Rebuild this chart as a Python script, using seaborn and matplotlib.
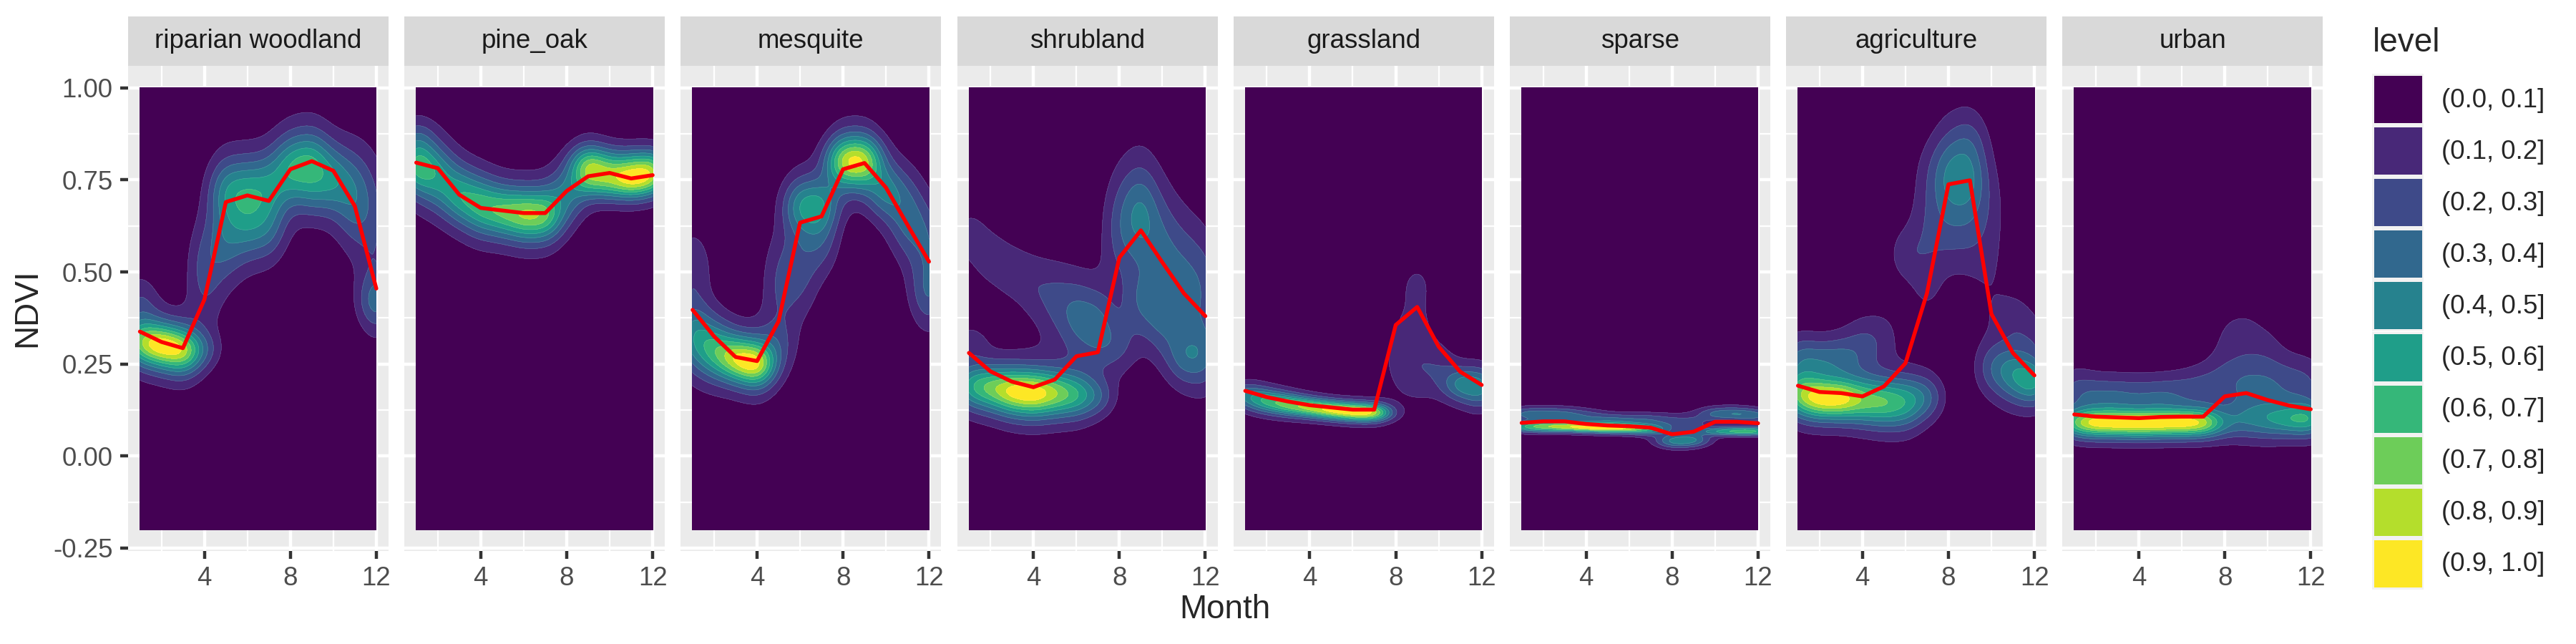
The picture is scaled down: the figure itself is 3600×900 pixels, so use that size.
import matplotlib
matplotlib.use("Agg")
import matplotlib.pyplot as plt
from matplotlib.patches import Rectangle
import seaborn as sns
import numpy as np
import pandas as pd

panels = ["riparian woodland", "pine_oak", "mesquite", "shrubland",
          "grassland", "sparse", "agriculture", "urban"]
months = list(range(1, 13))
level_labels = ["(0.0, 0.1]", "(0.1, 0.2]", "(0.2, 0.3]", "(0.3, 0.4]", "(0.4, 0.5]",
                "(0.5, 0.6]", "(0.6, 0.7]", "(0.7, 0.8]", "(0.8, 0.9]", "(0.9, 1.0]"]
level_colors = ["#440154", "#482878", "#3E4A89", "#31688E", "#26828E",
                "#1F9E89", "#35B779", "#6DCD59", "#B4DE2C", "#FDE725"]
x_ticks = [4, 8, 12]
y_ticks = [-0.25, 0.0, 0.25, 0.5, 0.75, 1.0]

# monthly mean NDVI (red lines)
riparian_line = [.338, .31, .293, .425, .69, .708, .693, .779, .801, .775, .679, .455]
pine_line = [.797, .782, .71, .674, .667, .66, .66, .72, .76, .769, .754, .763]
mesquite_line = [.397, .325, .269, .258, .366, .634, .651, .779, .796, .729, .628, .528]
shrub_line = [.28, .23, .202, .187, .208, .271, .282, .539, .613, .526, .442, .38]
grass_line = [.177, .16, .148, .138, .132, .126, .126, .356, .405, .297, .229, .193]
sparse_line = [.09, .094, .094, .087, .083, .081, .077, .059, .066, .093, .093, .089]
agri_line = [.191, .174, .171, .162, .189, .252, .442, .738, .749, .386, .28, .219]
urban_line = [.113, .107, .105, .103, .106, .107, .107, .162, .171, .152, .137, .127]

# density clusters: (month, ndvi, spread, weight)
riparian_blobs = [(1, .31, .04, .7), (1, .42, .05, .2), (2, .30, .038, .9), (3, .285, .04, .85),
                  (4, .29, .035, .2), (4, .50, .09, .28), (5, .72, .06, .42), (5, .58, .07, .3),
                  (6, .72, .06, .42), (6, .62, .06, .3), (7, .73, .06, .4), (7, .62, .06, .28),
                  (8, .78, .06, .55), (9, .79, .06, .6), (9, .70, .04, .1), (10, .75, .06, .45),
                  (11, .70, .08, .4), (12, .42, .05, .38), (12, .62, .12, .2)]
pine_blobs = [(1, .79, .05, .72), (1, .87, .03, .12), (2, .76, .055, .5), (3, .71, .05, .55),
              (4, .68, .05, .6), (5, .665, .045, .62), (6, .655, .045, .72), (7, .655, .045, .72),
              (8, .71, .05, .4), (9, .79, .035, .75), (9, .74, .03, .3), (10, .78, .035, .45),
              (10, .74, .03, .35), (11, .745, .03, .72), (11, .79, .03, .35),
              (12, .75, .03, .55), (12, .79, .03, .5)]
mesquite_blobs = [(1, .33, .06, .45), (1, .52, .06, .2), (2, .29, .05, .55), (3, .265, .04, .75),
                  (4, .25, .04, .9), (5, .30, .05, .18), (5, .47, .09, .2), (6, .68, .05, .42),
                  (6, .50, .08, .22), (7, .68, .05, .42), (7, .58, .06, .2), (8, .80, .045, .75),
                  (9, .80, .045, .8), (10, .72, .05, .42), (11, .65, .07, .35), (12, .44, .06, .3),
                  (12, .58, .07, .25)]
shrub_blobs = [(1, .19, .04, .5), (1, .31, .03, .16), (1, .60, .05, .16), (2, .185, .04, .6),
               (2, .54, .05, .16), (3, .175, .04, .8), (3, .50, .05, .16), (4, .17, .04, .85),
               (4, .46, .06, .16), (5, .17, .04, .65), (5, .42, .07, .2), (6, .165, .04, .5),
               (6, .38, .07, .3), (7, .16, .035, .25), (7, .35, .07, .33), (8, .62, .1, .25),
               (8, .30, .05, .2), (9, .66, .09, .42), (9, .42, .06, .25), (10, .56, .1, .28),
               (10, .36, .06, .24), (11, .49, .1, .27), (11, .27, .05, .3), (12, .45, .1, .25),
               (12, .27, .06, .26)]
grass_blobs = [(1, .165, .022, .5), (2, .15, .02, .68), (3, .14, .018, .78), (4, .132, .016, .85),
               (5, .125, .015, .95), (6, .12, .015, 1.0), (7, .118, .015, 1.0), (8, .27, .08, .15),
               (9, .33, .1, .16), (9, .47, .04, .1), (9, .22, .05, .09), (10, .24, .05, .2),
               (11, .195, .03, .5), (12, .185, .035, .55)]
sparse_blobs = [(1, .08, .009, .6), (1, .115, .012, .35), (2, .08, .009, .75), (2, .115, .012, .35),
                (3, .08, .008, .85), (3, .115, .012, .33), (4, .078, .008, .95), (4, .11, .012, .28),
                (5, .077, .008, .95), (5, .10, .012, .28), (6, .075, .008, .85), (6, .10, .012, .25),
                (7, .072, .01, .55), (7, .10, .012, .25), (8, .04, .012, .5), (8, .09, .016, .25),
                (9, .043, .012, .5), (9, .09, .016, .25), (10, .067, .007, .5), (10, .115, .012, .38),
                (11, .067, .007, .65), (11, .115, .012, .42), (12, .067, .007, .7), (12, .11, .012, .4)]
agri_blobs = [(1, .17, .04, .8), (1, .27, .04, .3), (2, .155, .035, .95), (2, .26, .04, .3),
              (3, .155, .035, .95), (3, .27, .04, .3), (4, .15, .04, .7), (4, .30, .05, .25),
              (5, .145, .042, .7), (5, .33, .05, .15), (6, .145, .045, .6), (7, .16, .04, .38),
              (6, .55, .05, .2), (7, .62, .09, .2), (7, .78, .06, .08), (7, .45, .06, .1),
              (8, .76, .08, .45), (8, .60, .07, .14), (9, .76, .08, .45), (9, .60, .08, .14),
              (9, .87, .05, .1), (10, .68, .09, .12), (10, .5, .1, .1), (10, .24, .05, .3),
              (11, .225, .05, .5), (11, .38, .04, .18), (12, .20, .04, .65), (12, .32, .05, .15)]
urban_blobs = [(1, .09, .025, .75), (1, .18, .04, .28), (2, .09, .024, 1.0), (2, .17, .035, .28),
               (3, .09, .024, 1.0), (3, .17, .035, .28), (4, .088, .024, 1.0), (4, .17, .035, .25),
               (5, .09, .024, 1.0), (5, .17, .035, .28), (6, .09, .024, 1.0), (6, .18, .035, .25),
               (7, .09, .024, .95), (7, .19, .04, .25), (8, .09, .03, .33), (8, .2, .05, .25),
               (8, .33, .06, .1), (9, .10, .035, .36), (9, .2, .05, .28), (9, .33, .06, .13),
               (10, .10, .035, .45), (10, .2, .05, .27), (10, .3, .05, .1), (11, .10, .03, .55),
               (11, .2, .05, .25), (12, .10, .03, .7), (12, .2, .05, .22)]

panel_lines = [riparian_line, pine_line, mesquite_line, shrub_line,
               grass_line, sparse_line, agri_line, urban_line]
panel_blobs = [riparian_blobs, pine_blobs, mesquite_blobs, shrub_blobs,
               grass_blobs, sparse_blobs, agri_blobs, urban_blobs]

WIDTH, HEIGHT = 3600, 900
PANEL_W = 364
PANEL_STEP = 386.2
LEFT, TOP, BOTTOM = 179, 92, 770
MONTH_BW = 0.62


def fx(px):
    return px / WIDTH


def fy(py):
    return 1 - py / HEIGHT


def density_field(blobs):
    xs = np.linspace(1, 12, 331)
    ys = np.linspace(-0.2, 1.0, 601)
    xx, yy = np.meshgrid(xs, ys)
    zz = np.zeros_like(xx)
    for month, ndvi, spread, weight in blobs:
        along = np.exp(-0.5 * ((xx - month) / MONTH_BW) ** 2)
        # narrow core plus a wider shoulder, the contours have long tails
        across = 0.7 * np.exp(-0.5 * ((yy - ndvi) / spread) ** 2) + 0.3 * np.exp(-0.5 * ((yy - ndvi) / (1.8 * spread)) ** 2)
        zz += weight * along * across
    return xs, ys, zz / zz.max()


sns.set_theme(style="darkgrid", rc={
    "axes.facecolor": "#EBEBEB", "grid.color": "white", "axes.edgecolor": "none",
    "xtick.bottom": True, "ytick.left": True, "xtick.color": "#333333", "ytick.color": "#333333",
    "xtick.major.size": 2.75, "ytick.major.size": 2.75,
    "xtick.major.width": 1.07, "ytick.major.width": 1.07,
    "xtick.major.pad": 2.2, "ytick.major.pad": 2.4,
})
plt.rcParams["font.family"] = ["Liberation Sans", "DejaVu Sans"]

line_df = pd.concat([pd.DataFrame({"panel": name, "month": months, "ndvi": vals})
                     for name, vals in zip(panels, panel_lines)])

g = sns.FacetGrid(line_df, col="panel", col_order=panels, sharex=True, sharey=True, height=3, aspect=0.5)
g.figure.set_size_inches(WIDTH / 300, HEIGHT / 300)
g.figure.subplots_adjust(left=fx(LEFT), right=fx(LEFT + 7 * PANEL_STEP + PANEL_W),
                         top=fy(TOP), bottom=fy(BOTTOM),
                         wspace=(PANEL_STEP - PANEL_W) / PANEL_W)

for i, ((name, ax), blobs) in enumerate(zip(g.axes_dict.items(), panel_blobs)):
    xs, ys, zz = density_field(blobs)
    ax.contourf(xs, ys, zz, levels=np.linspace(0, 1, 11), colors=level_colors, zorder=3)
    ax.contour(xs, ys, zz, levels=np.linspace(0.1, 0.9, 9), colors="white", linewidths=0.15, alpha=0.18, zorder=3)
    sns.lineplot(data=line_df[line_df["panel"] == name], x="month", y="ndvi",
                 color="red", linewidth=1.3, ax=ax, zorder=4, errorbar=None)
    ax.set_xlim(0.45, 12.57)
    ax.set_ylim(-0.258, 1.06)
    ax.set_xticks(x_ticks)
    ax.set_xticks([2, 6, 10], minor=True)
    ax.set_yticks(y_ticks)
    ax.set_yticks([-0.125, 0.125, 0.375, 0.625, 0.875], minor=True)
    ax.grid(which="major", color="white", linewidth=1.07, zorder=1)
    ax.grid(which="minor", color="white", linewidth=0.53, zorder=1)
    ax.tick_params(which="minor", length=0)
    ax.tick_params(which="major", labelsize=8.8, labelcolor="#4D4D4D")
    ax.set_yticklabels(["-0.25", "0.00", "0.25", "0.50", "0.75", "1.00"])
    if i > 0:
        ax.tick_params(axis="y", which="both", left=False, labelleft=False)
    ax.set_xlabel("")
    ax.set_ylabel("")
    ax.set_title("")
    # strip above the panel
    ax.add_patch(Rectangle((0, 1), 1, 69 / (BOTTOM - TOP), transform=ax.transAxes,
                           facecolor="#D9D9D9", edgecolor="none", clip_on=False))
    ax.text(0.5, 1 + 34.5 / (BOTTOM - TOP), name, transform=ax.transAxes, ha="center", va="center",
            fontsize=8.8, color="#1A1A1A")

fig = g.figure
fig.text(fx(1712), fy(852), "Month", ha="center", va="center", fontsize=11)
fig.text(fx(38), fy(430), "NDVI", ha="center", va="center", rotation=90, fontsize=11)

# legend
fig.text(fx(3316), fy(60), "level", ha="left", va="center", fontsize=11)
for i, (label, color) in enumerate(zip(level_labels, level_colors)):
    top = 103 + i * 72.1
    fig.add_artist(Rectangle((fx(3315), fy(top + 72)), 72 / WIDTH, 72 / HEIGHT,
                             transform=fig.transFigure, facecolor="#F2F2F2", edgecolor="none"))
    fig.add_artist(Rectangle((fx(3317.5), fy(top + 69)), 67 / WIDTH, 66 / HEIGHT,
                             transform=fig.transFigure, facecolor=color, edgecolor="none"))
    fig.text(fx(3412), fy(top + 37), label, ha="left", va="center", fontsize=8.8)

fig.savefig("out.png", dpi=300)
